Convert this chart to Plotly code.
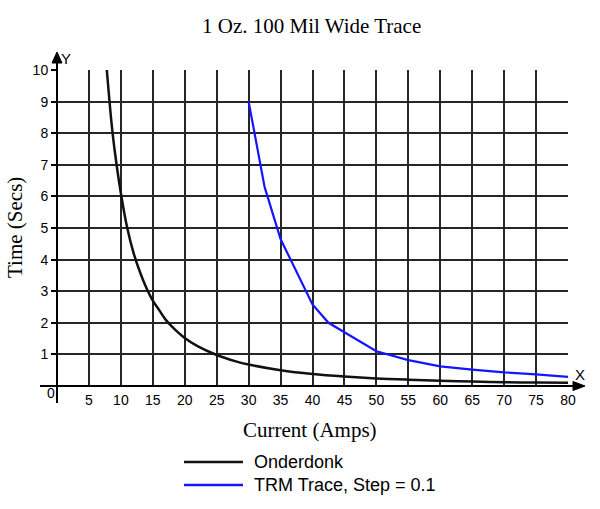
import plotly.graph_objects as go

# ---- data ----
onderdonk_current = [7.8, 8.5, 9, 10, 11, 12, 13, 14, 15, 16, 17, 18, 20, 22, 25, 28, 30,
                     35, 40, 45, 50, 55, 60, 65, 70, 75, 80]
onderdonk_time = [10, 8.4, 7.5, 6.1, 5.0, 4.2, 3.6, 3.1, 2.7, 2.4, 2.1, 1.88, 1.52, 1.26, 0.98,
                  0.78, 0.68, 0.5, 0.38, 0.3, 0.24, 0.2, 0.17, 0.14, 0.12, 0.11, 0.1]

trm_current = [30, 32.5, 35, 40, 42.5, 50, 55, 60, 65, 70, 75, 80]
trm_time = [9.0, 6.3, 4.65, 2.58, 2.0, 1.1, 0.82, 0.62, 0.52, 0.43, 0.37, 0.29]

x_ticks = list(range(5, 85, 5))
y_ticks = list(range(1, 11))

series_names = ["Onderdonk", "TRM Trace, Step = 0.1"]
series_colors = ["#111111", "#1515ff"]

W, H = 600, 509
ML, MR, MT, MB = 57, 32, 70, 123
PW, PH = W - ML - MR, H - MT - MB


def px(x):
    return (x - ML) / PW


def py(y):
    return (H - MB - y) / PH


fig = go.Figure()
fig.add_trace(go.Scatter(x=onderdonk_current, y=onderdonk_time, mode="lines",
                         line=dict(color=series_colors[0], width=2.5, shape="spline"),
                         name=series_names[0], showlegend=False))
fig.add_trace(go.Scatter(x=trm_current, y=trm_time, mode="lines",
                         line=dict(color=series_colors[1], width=2.2),
                         name=series_names[1], showlegend=False))

grid_col = "#262626"
shapes = [
    # x axis line
    dict(type="line", xref="paper", yref="paper", x0=px(40), x1=px(576), y0=0, y1=0,
         line=dict(color="black", width=2)),
    # y axis line
    dict(type="line", xref="paper", yref="paper", x0=0, x1=0, y0=py(403), y1=py(60),
         line=dict(color="black", width=2)),
    # arrow heads
    dict(type="path", xref="paper", yref="paper",
         path=f"M {px(585)} {py(386)} L {px(573)} {py(381.5)} L {px(573)} {py(390.5)} Z",
         fillcolor="black", line=dict(color="black", width=1)),
    dict(type="path", xref="paper", yref="paper",
         path=f"M {px(57)} {py(52)} L {px(52)} {py(63)} L {px(62)} {py(63)} Z",
         fillcolor="black", line=dict(color="black", width=1)),
]
# legend lines
for c, yy in zip(series_colors, [462, 485]):
    shapes.append(dict(type="line", xref="paper", yref="paper", x0=px(184), x1=px(243),
                       y0=py(yy), y1=py(yy), line=dict(color=c, width=2.5)))

annotations = [
    dict(text="1 Oz. 100 Mil Wide Trace", xref="paper", yref="paper", x=px(311), y=py(26),
         showarrow=False, font=dict(family="Liberation Serif", size=21, color="black"),
         xanchor="center", yanchor="middle"),
    dict(text="Current (Amps)", xref="paper", yref="paper", x=px(309.5), y=py(430),
         showarrow=False, font=dict(family="Liberation Serif", size=21, color="black"),
         xanchor="center", yanchor="middle"),
    dict(text="Time (Secs)", xref="paper", yref="paper", x=px(15), y=py(228), textangle=-90,
         showarrow=False, font=dict(family="Liberation Serif", size=21, color="black"),
         xanchor="center", yanchor="middle"),
    dict(text="Y", xref="paper", yref="paper", x=px(66), y=py(58), showarrow=False,
         font=dict(family="Liberation Sans", size=15, color="black"),
         xanchor="center", yanchor="middle"),
    dict(text="X", xref="paper", yref="paper", x=px(580), y=py(374), showarrow=False,
         font=dict(family="Liberation Sans", size=15, color="black"),
         xanchor="center", yanchor="middle"),
    dict(text="0", xref="paper", yref="paper", x=px(50.5), y=py(393), showarrow=False,
         font=dict(family="Liberation Sans", size=14, color="black"),
         xanchor="center", yanchor="middle"),
]
for name, yy in zip(series_names, [462, 485]):
    annotations.append(dict(text=name, xref="paper", yref="paper", x=px(252), y=py(yy),
                            showarrow=False, xanchor="left", yanchor="middle",
                            font=dict(family="Liberation Sans", size=18, color="black")))

fig.update_layout(
    width=W, height=H,
    margin=dict(l=ML, r=MR, t=MT, b=MB, pad=0),
    paper_bgcolor="white", plot_bgcolor="white",
    font=dict(family="Liberation Sans", size=14, color="black"),
    showlegend=False,
    shapes=shapes, annotations=annotations,
    xaxis=dict(range=[0, 80], tickmode="array", tickvals=x_ticks,
               ticktext=[str(v) for v in x_ticks],
               showgrid=True, gridcolor=grid_col, gridwidth=2, zeroline=False,
               showline=False, ticks="", ticklabelstandoff=4,
               tickfont=dict(family="Liberation Sans", size=14, color="black")),
    yaxis=dict(range=[0, 10], tickmode="array", tickvals=y_ticks,
               ticktext=[str(v) for v in y_ticks],
               showgrid=True, gridcolor=grid_col, gridwidth=2, zeroline=False,
               showline=False, ticks="outside", ticklen=5, tickcolor="black", tickwidth=1.5,
               tickfont=dict(family="Liberation Sans", size=14, color="black")),
)

fig.write_html("out.html", config={"displayModeBar": False},
               post_script="document.body.style.margin='0px';")
